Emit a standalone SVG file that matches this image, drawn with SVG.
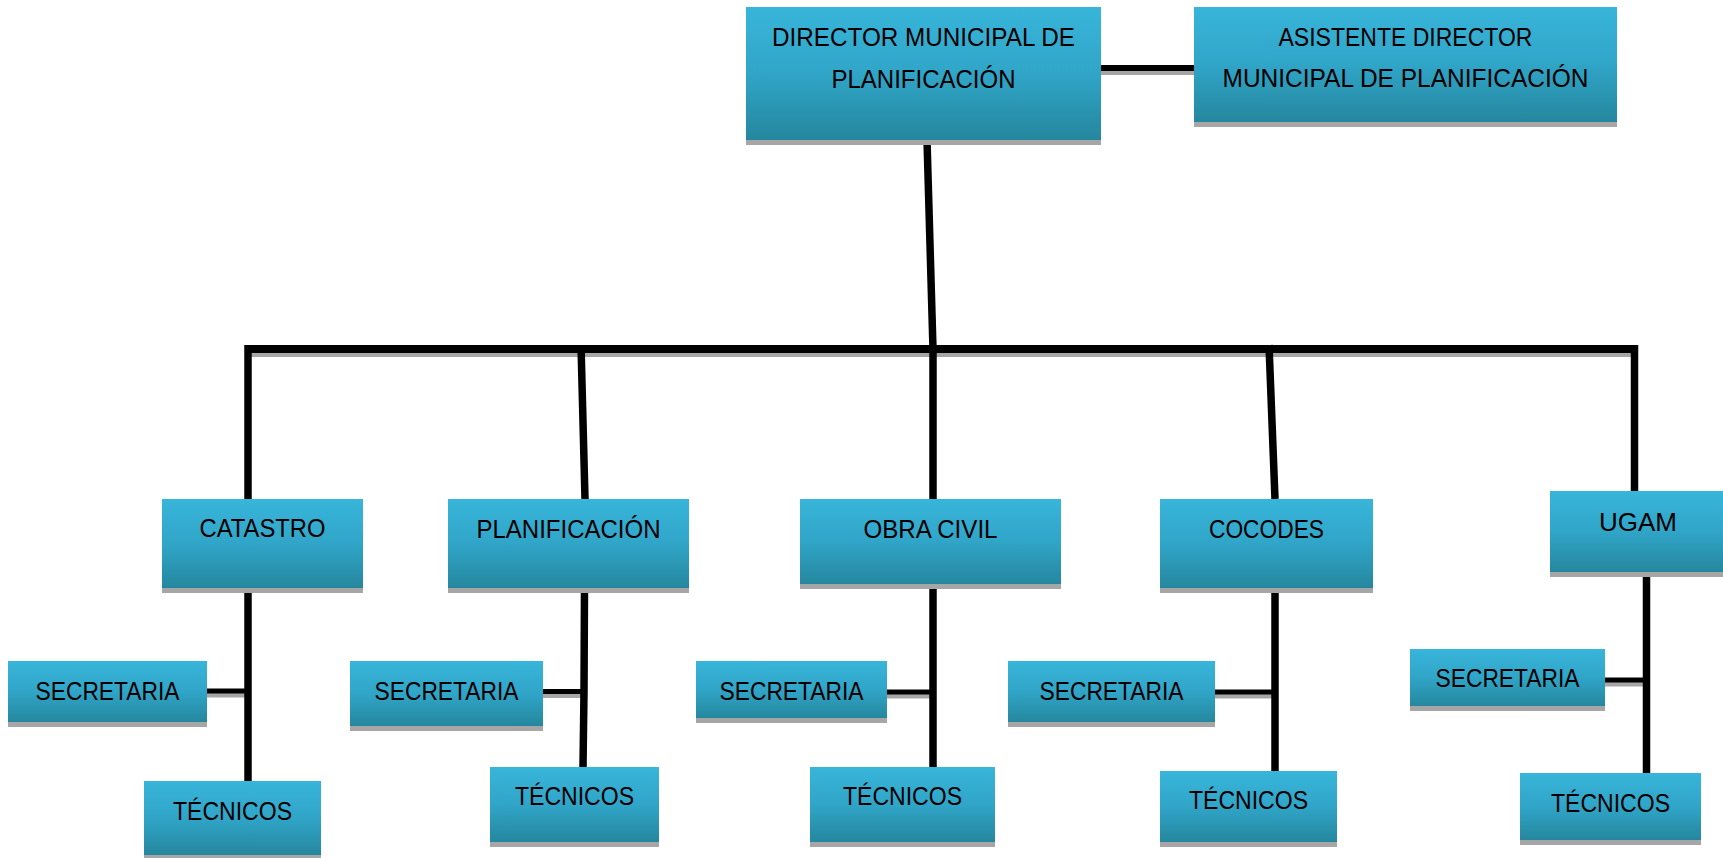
<svg xmlns="http://www.w3.org/2000/svg" width="1723" height="858" viewBox="0 0 1723 858">
  <defs>
    <linearGradient id="boxFill" x1="0" y1="0" x2="0" y2="1">
      <stop offset="0" stop-color="#38b5da"/>
      <stop offset="0.5" stop-color="#30a5c8"/>
      <stop offset="1" stop-color="#25879e"/>
    </linearGradient>
  </defs>
  <style>
    .box { fill: url(#boxFill); }
    .shadow { fill: #a6a6a6; }
    .lbl { font-family: "Liberation Sans", Arial, sans-serif; font-size: 26px; fill: #000; text-anchor: middle; }
    .wire { fill: none; stroke: #000; stroke-linecap: butt; }
    .wire-shadow { fill: none; stroke: #a6a6a6; stroke-linecap: butt; }
    .w-main { stroke-width: 8; }
    .w-drop { stroke-width: 7.5; }
    .w-side { stroke-width: 5; }
    .w-asst { stroke-width: 6; }
  </style>

  <rect width="1723" height="858" fill="#ffffff"/>

  <!-- connectors -->
  <g id="connectors">
    <g class="wire-shadow" transform="translate(0,4)">
      <path class="w-asst" d="M1101 68 H1194"/>
      <path class="w-main" d="M248 349 H1636"/>
      <path class="w-side" d="M207 691 H248"/>
      <path class="w-side" d="M543 691.5 H584"/>
      <path class="w-side" d="M887 692 H933"/>
      <path class="w-side" d="M1215 692 H1275"/>
      <path class="w-side" d="M1605 680 H1646"/>
    </g>
    <g class="wire">
      <path class="w-asst" d="M1101 68 H1194"/>
      <path class="w-drop" d="M927 140 L933 349"/>
      <path class="w-main" d="M248 349 H1636"/>
      <!-- drops to second level -->
      <path class="w-drop" d="M248 345 V499"/>
      <path class="w-drop" d="M581 345 L585 499"/>
      <path class="w-drop" d="M933 345 V499"/>
      <path class="w-drop" d="M1269 345 L1275 499"/>
      <path class="w-drop" d="M1634.5 345 V491"/>
      <!-- branches below each unit -->
      <path class="w-drop" d="M248 588 V781"/>
      <path class="w-side" d="M207 691 H248"/>
      <path class="w-drop" d="M584.5 588 L584 692 L583 767"/>
      <path class="w-side" d="M543 691.5 H584"/>
      <path class="w-drop" d="M933 584 V767"/>
      <path class="w-side" d="M887 692 H933"/>
      <path class="w-drop" d="M1275 588 V771"/>
      <path class="w-side" d="M1215 692 H1275"/>
      <path class="w-drop" d="M1646.5 572 V773"/>
      <path class="w-side" d="M1605 680 H1646"/>
    </g>
  </g>

  <!-- top level -->
  <g id="director">
    <rect class="shadow" x="746" y="12" width="355" height="133"/>
    <rect class="box" x="746" y="7" width="355" height="133"/>
    <text class="lbl" x="923.5" y="46" textLength="303" lengthAdjust="spacingAndGlyphs">DIRECTOR MUNICIPAL DE</text>
    <text class="lbl" x="923.5" y="88" textLength="184" lengthAdjust="spacingAndGlyphs">PLANIFICACIÓN</text>
  </g>
  <g id="asistente">
    <rect class="shadow" x="1194" y="12" width="423" height="115"/>
    <rect class="box" x="1194" y="7" width="423" height="115"/>
    <text class="lbl" x="1405.5" y="46" textLength="254" lengthAdjust="spacingAndGlyphs">ASISTENTE DIRECTOR</text>
    <text class="lbl" x="1405.5" y="87" textLength="366" lengthAdjust="spacingAndGlyphs">MUNICIPAL DE PLANIFICACIÓN</text>
  </g>

  <!-- second level -->
  <g id="catastro">
    <rect class="shadow" x="162" y="504" width="201" height="89"/>
    <rect class="box" x="162" y="499" width="201" height="89"/>
    <text class="lbl" x="262.5" y="537" textLength="126" lengthAdjust="spacingAndGlyphs">CATASTRO</text>
  </g>
  <g id="planificacion">
    <rect class="shadow" x="448" y="504" width="241" height="89"/>
    <rect class="box" x="448" y="499" width="241" height="89"/>
    <text class="lbl" x="568.5" y="538" textLength="184" lengthAdjust="spacingAndGlyphs">PLANIFICACIÓN</text>
  </g>
  <g id="obra-civil">
    <rect class="shadow" x="800" y="504" width="261" height="85"/>
    <rect class="box" x="800" y="499" width="261" height="85"/>
    <text class="lbl" x="930.5" y="538" textLength="134" lengthAdjust="spacingAndGlyphs">OBRA CIVIL</text>
  </g>
  <g id="cocodes">
    <rect class="shadow" x="1160" y="504" width="213" height="89"/>
    <rect class="box" x="1160" y="499" width="213" height="89"/>
    <text class="lbl" x="1266.5" y="538" textLength="115" lengthAdjust="spacingAndGlyphs">COCODES</text>
  </g>
  <g id="ugam">
    <rect class="shadow" x="1550" y="496" width="176" height="81"/>
    <rect class="box" x="1550" y="491" width="176" height="81"/>
    <text class="lbl" x="1638" y="531" textLength="78" lengthAdjust="spacingAndGlyphs">UGAM</text>
  </g>

  <!-- third level: secretarias -->
  <g id="secretaria-catastro">
    <rect class="shadow" x="8" y="666" width="199" height="61"/>
    <rect class="box" x="8" y="661" width="199" height="61"/>
    <text class="lbl" x="107.5" y="700" textLength="144" lengthAdjust="spacingAndGlyphs">SECRETARIA</text>
  </g>
  <g id="secretaria-planificacion">
    <rect class="shadow" x="350" y="666" width="193" height="65"/>
    <rect class="box" x="350" y="661" width="193" height="65"/>
    <text class="lbl" x="446.5" y="700" textLength="144" lengthAdjust="spacingAndGlyphs">SECRETARIA</text>
  </g>
  <g id="secretaria-obra-civil">
    <rect class="shadow" x="696" y="666" width="191" height="57"/>
    <rect class="box" x="696" y="661" width="191" height="57"/>
    <text class="lbl" x="791.5" y="700" textLength="144" lengthAdjust="spacingAndGlyphs">SECRETARIA</text>
  </g>
  <g id="secretaria-cocodes">
    <rect class="shadow" x="1008" y="666" width="207" height="61"/>
    <rect class="box" x="1008" y="661" width="207" height="61"/>
    <text class="lbl" x="1111.5" y="700" textLength="144" lengthAdjust="spacingAndGlyphs">SECRETARIA</text>
  </g>
  <g id="secretaria-ugam">
    <rect class="shadow" x="1410" y="654" width="195" height="57"/>
    <rect class="box" x="1410" y="649" width="195" height="57"/>
    <text class="lbl" x="1507.5" y="687" textLength="144" lengthAdjust="spacingAndGlyphs">SECRETARIA</text>
  </g>

  <!-- third level: tecnicos -->
  <g id="tecnicos-catastro">
    <rect class="shadow" x="144" y="786" width="177" height="74"/>
    <rect class="box" x="144" y="781" width="177" height="74"/>
    <text class="lbl" x="232.5" y="820" textLength="119" lengthAdjust="spacingAndGlyphs">TÉCNICOS</text>
  </g>
  <g id="tecnicos-planificacion">
    <rect class="shadow" x="490" y="772" width="169" height="75"/>
    <rect class="box" x="490" y="767" width="169" height="75"/>
    <text class="lbl" x="574.5" y="805" textLength="119" lengthAdjust="spacingAndGlyphs">TÉCNICOS</text>
  </g>
  <g id="tecnicos-obra-civil">
    <rect class="shadow" x="810" y="772" width="185" height="75"/>
    <rect class="box" x="810" y="767" width="185" height="75"/>
    <text class="lbl" x="902.5" y="805" textLength="119" lengthAdjust="spacingAndGlyphs">TÉCNICOS</text>
  </g>
  <g id="tecnicos-cocodes">
    <rect class="shadow" x="1160" y="776" width="177" height="71"/>
    <rect class="box" x="1160" y="771" width="177" height="71"/>
    <text class="lbl" x="1248.5" y="809" textLength="119" lengthAdjust="spacingAndGlyphs">TÉCNICOS</text>
  </g>
  <g id="tecnicos-ugam">
    <rect class="shadow" x="1520" y="778" width="181" height="67"/>
    <rect class="box" x="1520" y="773" width="181" height="67"/>
    <text class="lbl" x="1610.5" y="812" textLength="119" lengthAdjust="spacingAndGlyphs">TÉCNICOS</text>
  </g>
</svg>
